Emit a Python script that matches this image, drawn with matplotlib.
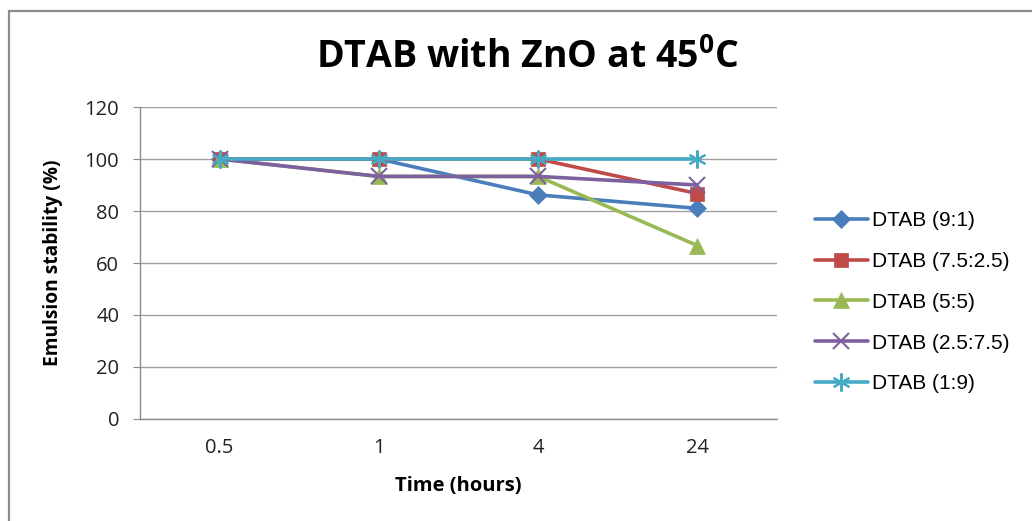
import matplotlib.pyplot as plt
from matplotlib.patches import Rectangle

# data
times = ['0.5', '1', '4', '24']
dtab_9_1 = [100, 100, 86.2, 81.0]
dtab_75_25 = [100, 100, 100, 86.7]
dtab_5_5 = [100, 93.3, 93.3, 66.7]
dtab_25_75 = [100, 93.3, 93.3, 90.0]
dtab_1_9 = [100, 100, 100, 100]

labels = ['DTAB (9:1)', 'DTAB (7.5:2.5)', 'DTAB (5:5)', 'DTAB (2.5:7.5)', 'DTAB (1:9)']
series = [dtab_9_1, dtab_75_25, dtab_5_5, dtab_25_75, dtab_1_9]
colors = ['#4A7EBB', '#BE4B48', '#98B954', '#7D60A0', '#46AAC5']
markers = ['D', 's', '^', 'x', (6, 2, 0)]
msizes = [9, 10, 11, 12, 13]

plt.rcParams['font.family'] = ['Open Sans', 'DejaVu Sans']

fig = plt.figure(figsize=(10.32, 5.21), dpi=100)
ax = fig.add_axes([0.1357, 0.1958, 0.6172, 0.5988])

x = list(range(len(times)))
for vals, lab, c, m, ms in zip(series, labels, colors, markers, msizes):
    ax.plot(x, vals, color=c, lw=2.6, marker=m, markersize=ms,
            markeredgewidth=1.5 if m in ('x',) or isinstance(m, tuple) else 0.5,
            markeredgecolor=c, label=lab, solid_capstyle='round')

ax.set_xlim(-0.5, 3.5)
ax.set_ylim(0, 120)
ax.set_yticks(range(0, 121, 20))
ax.set_xticks(x)
ax.set_xticklabels(times)
ax.yaxis.grid(True, color='#A0A0A0', lw=1)
ax.set_axisbelow(True)
for s in ['top', 'right']:
    ax.spines[s].set_visible(False)
for s in ['left', 'bottom']:
    ax.spines[s].set_color('#8C8C8C')
    ax.spines[s].set_linewidth(1)
ax.tick_params(axis='y', length=5, color='#8C8C8C', labelsize=14.5, pad=10, labelcolor='#222222')
ax.tick_params(axis='x', length=0, labelsize=14.5, pad=14, labelcolor='#222222')

ax.set_xlabel('Time (hours)', fontsize=14.5, fontweight='bold', va='top')
ax.xaxis.set_label_coords(0.5, -0.183)
ax.set_ylabel('Emulsion stability (%)', fontsize=13.8, fontweight='bold')
ax.yaxis.set_label_coords(-0.121, 0.5)

fig.text(0.511, 0.8695, r'DTAB with ZnO at 45$^{\mathregular{0}}$C', ha='center', va='baseline',
         fontsize=27, fontweight='bold')

fig.legend(loc='center left', bbox_to_anchor=(0.772, 0.42), frameon=False,
           prop={'family': 'Liberation Sans', 'size': 15}, handlelength=2.5,
           labelspacing=1.05, handletextpad=0.2)

fig.add_artist(Rectangle((9 / 1032, -0.1), 1.2, 1.1 - 11 / 521, transform=fig.transFigure,
                         fill=False, edgecolor='#8C8C8C', lw=1.6))

plt.savefig('out.png', dpi=100)
